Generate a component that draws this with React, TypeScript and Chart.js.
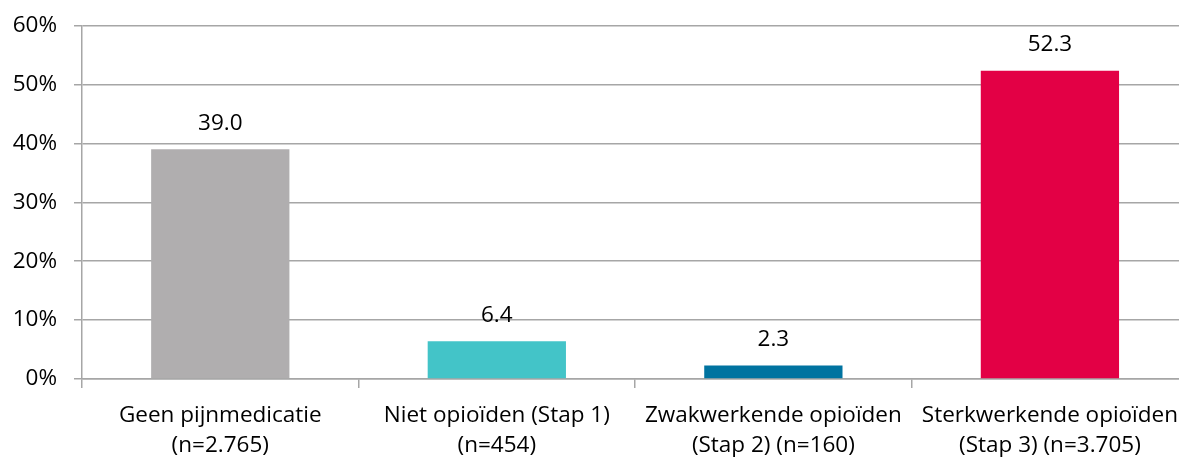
import React, { useEffect, useRef } from "react";
import { Chart, registerables } from "chart.js";

Chart.register(...registerables);

const categories: string[][] = [
  ["Geen pijnmedicatie", "(n=2.765)"],
  ["Niet opioïden (Stap 1)", "(n=454)"],
  ["Zwakwerkende opioïden", "(Stap 2) (n=160)"],
  ["Sterkwerkende opioïden", "(Stap 3) (n=3.705)"],
];
const values: number[] = [39.0, 6.4, 2.3, 52.3];
const barColors: string[] = ["#B0AEAF", "#43C4C8", "#0073A0", "#E30045"];
const yTicks: number[] = [0, 10, 20, 30, 40, 50, 60];

const FONT = "'Open Sans', sans-serif";
const FS = 22.5;

const dataLabels = {
  id: "dataLabels",
  afterDatasetsDraw(chart: any) {
    const ctx = chart.ctx;
    const meta = chart.getDatasetMeta(0);
    ctx.save();
    ctx.fillStyle = "#000";
    ctx.font = `${FS}px ${FONT}`;
    ctx.textAlign = "center";
    ctx.textBaseline = "middle";
    meta.data.forEach((bar: any, i: number) => {
      ctx.fillText(values[i].toFixed(1), bar.x, bar.y - 26);
    });
    ctx.restore();
  },
};

export default function App() {
  const ref = useRef<HTMLCanvasElement | null>(null);
  useEffect(() => {
    if (!ref.current) return;
    const chart = new Chart(ref.current, {
      type: "bar",
      data: {
        labels: categories,
        datasets: [
          {
            data: values,
            backgroundColor: barColors,
            categoryPercentage: 1,
            barPercentage: 0.5,
          },
        ],
      },
      options: {
        animation: false,
        responsive: false,
        maintainAspectRatio: false,
        layout: { padding: { top: 12, left: 0, right: 0, bottom: 0 } },
        plugins: { legend: { display: false }, tooltip: { enabled: false } },
        scales: {
          x: {
            afterFit: (s: any) => {
              s.height = 78;
            },
            grid: {
              offset: true,
              drawOnChartArea: false,
              drawTicks: true,
              tickLength: 9,
              color: "#A6A6A6",
              lineWidth: 1.5,
            },
            border: { display: true, color: "#A6A6A6", width: 1.5 },
            ticks: {
              color: "#000",
              font: { family: FONT, size: FS, lineHeight: 1.33 },
              padding: 13,
              maxRotation: 0,
              autoSkip: false,
            },
          },
          y: {
            min: 0,
            max: 60,
            afterFit: (s: any) => {
              s.width = 82;
            },
            afterBuildTicks: (s: any) => {
              s.ticks = yTicks.map((v) => ({ value: v }));
            },
            grid: {
              color: "#A6A6A6",
              lineWidth: 1.5,
              tickLength: 8,
            },
            border: { display: true, color: "#A6A6A6", width: 1.5 },
            ticks: {
              color: "#000",
              font: { family: FONT, size: FS },
              padding: 17,
              callback: (v: any) => `${v}%`,
            },
          },
        },
      },
      plugins: [dataLabels],
    });
    return () => chart.destroy();
  }, []);
  return (
    <div style={{ position: "fixed", left: 0, top: 0, width: 1179, height: 457, overflow: "hidden", background: "#fff" }}>
      <canvas ref={ref} width={1191} height={462} style={{ display: "block", marginTop: -5 }} />
    </div>
  );
}
